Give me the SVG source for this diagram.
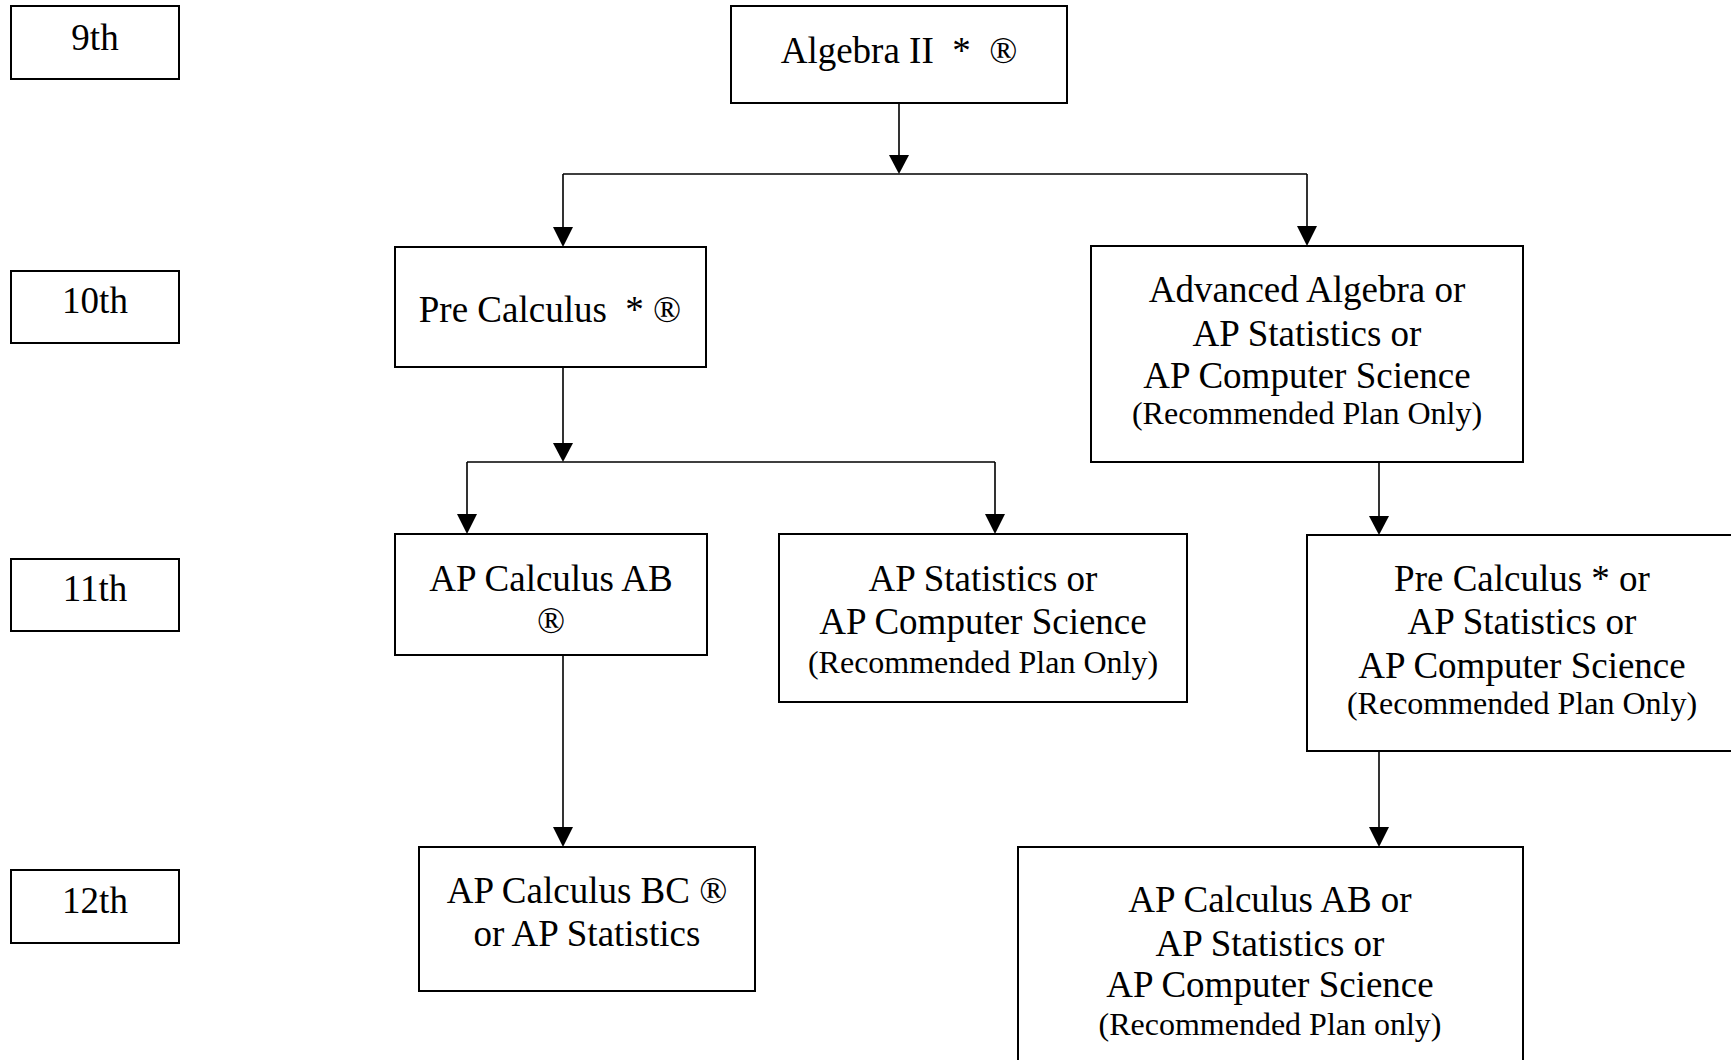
<svg xmlns="http://www.w3.org/2000/svg" width="1731" height="1060" viewBox="0 0 1731 1060">
<defs>
<style>
.box{fill:#fff;stroke:#000;stroke-width:2}
.t{font-family:"Liberation Serif","Times New Roman",serif;font-size:37px;fill:#000;text-anchor:middle}
.s{font-size:32px}
.ln{fill:none;stroke:#000;stroke-width:1.6}
.ah{fill:#000}
</style>
</defs>
<rect width="1731" height="1060" fill="#fff"/>
<g id="connectors">
<path class="ln" d="M899 103V160M563 174H1307M563 174V230M1307 174V230"/>
<polygon class="ah" points="889,155 909,155 899,174"/>
<polygon class="ah" points="553,227 573,227 563,247"/>
<polygon class="ah" points="1297,226 1317,226 1307,246"/>
<path class="ln" d="M563 367V448M467 462H995M467 462V518M995 462V518"/>
<polygon class="ah" points="553,443 573,443 563,462"/>
<polygon class="ah" points="457,514 477,514 467,534"/>
<polygon class="ah" points="985,514 1005,514 995,534"/>
<path class="ln" d="M1379 463V520"/>
<polygon class="ah" points="1369,516 1389,516 1379,535"/>
<path class="ln" d="M563 655V830"/>
<polygon class="ah" points="553,827 573,827 563,847"/>
<path class="ln" d="M1379 751V830"/>
<polygon class="ah" points="1369,827 1389,827 1379,847"/>
</g>
<g id="g9"><rect class="box" x="11" y="6" width="168" height="73"/><text class="t" x="95" y="50">9th</text></g>
<g id="g10"><rect class="box" x="11" y="271" width="168" height="72"/><text class="t" x="95" y="313">10th</text></g>
<g id="g11"><rect class="box" x="11" y="559" width="168" height="72"/><text class="t" x="95" y="601">11th</text></g>
<g id="g12"><rect class="box" x="11" y="870" width="168" height="73"/><text class="t" x="95" y="913">12th</text></g>
<g id="alg2"><rect class="box" x="731" y="6" width="336" height="97"/><text class="t" x="899" y="63" xml:space="preserve">Algebra II  *  ®</text></g>
<g id="precalc"><rect class="box" x="395" y="247" width="311" height="120"/><text class="t" x="550" y="322" xml:space="preserve">Pre Calculus  * ®</text></g>
<g id="advalg"><rect class="box" x="1091" y="246" width="432" height="216"/>
<text class="t" x="1307" y="302">Advanced Algebra or</text>
<text class="t" x="1307" y="346">AP Statistics or</text>
<text class="t" x="1307" y="388">AP Computer Science</text>
<text class="t s" x="1307" y="424">(Recommended Plan Only)</text></g>
<g id="calcab"><rect class="box" x="395" y="534" width="312" height="121"/>
<text class="t" x="551" y="591">AP Calculus AB</text>
<text class="t" x="551" y="633">®</text></g>
<g id="stat11"><rect class="box" x="779" y="534" width="408" height="168"/>
<text class="t" x="983" y="591">AP Statistics or</text>
<text class="t" x="983" y="634">AP Computer Science</text>
<text class="t s" x="983" y="673">(Recommended Plan Only)</text></g>
<g id="pre11"><rect class="box" x="1307" y="535" width="432" height="216"/>
<text class="t" x="1522" y="591">Pre Calculus * or</text>
<text class="t" x="1522" y="634">AP Statistics or</text>
<text class="t" x="1522" y="678">AP Computer Science</text>
<text class="t s" x="1522" y="714">(Recommended Plan Only)</text></g>
<g id="calcbc"><rect class="box" x="419" y="847" width="336" height="144"/>
<text class="t" x="587" y="903">AP Calculus BC ®</text>
<text class="t" x="587" y="946">or AP Statistics</text></g>
<g id="final"><rect class="box" x="1018" y="847" width="505" height="230"/>
<text class="t" x="1270" y="912">AP Calculus AB or</text>
<text class="t" x="1270" y="956">AP Statistics or</text>
<text class="t" x="1270" y="997">AP Computer Science</text>
<text class="t s" x="1270" y="1035">(Recommended Plan only)</text></g>
</svg>
